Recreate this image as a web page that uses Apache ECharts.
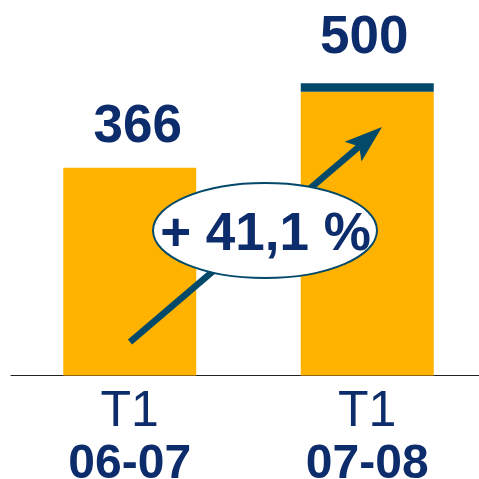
<!DOCTYPE html>
<html><head><meta charset="utf-8">
<script src="https://cdn.jsdelivr.net/npm/echarts@6/dist/echarts.min.js"></script>
<style>html,body{margin:0;padding:0;background:#fff}#c{width:479px;height:479px}</style>
</head><body><div id="c"></div>
<script>
var periods = ['T1', 'T1'];
var years = ['06-07', '07-08'];
var values = [366, 500];
var capValues = [null, 15];
var growthLabel = '+ 41,1 %';

var NAVY = '#0c2c6b', ORANGE = '#ffb300', TEAL = '#034a6a';
var FONT = '"Liberation Sans", Arial, sans-serif';
var categories = periods.map(function (p, i) { return p + '\n' + years[i]; });

var chart = echarts.init(document.getElementById('c'), null, {renderer: 'canvas'});

// arrow geometry (annotation)
var tail = [130, 342], tip = [382, 127];
var dx = tip[0] - tail[0], dy = tip[1] - tail[1], L = Math.sqrt(dx*dx + dy*dy);
var ux = dx / L, uy = dy / L, nx = -uy, ny = ux;
var headLen = 38, headHalf = 13, notch = 30;
var base = [tip[0] - ux*headLen, tip[1] - uy*headLen];
var c1 = [base[0] + nx*headHalf, base[1] + ny*headHalf];
var c2 = [base[0] - nx*headHalf, base[1] - ny*headHalf];
var nt = [tip[0] - ux*notch, tip[1] - uy*notch];

chart.setOption({
  animation: false,
  grid: {left: 11, top: 35, width: 475, bottom: 103.5, containLabel: false, outerBoundsMode: 'none'},
  xAxis: {
    type: 'category', data: categories,
    axisLine: {show: true, lineStyle: {color: '#222', width: 1.2}},
    axisTick: {show: false},
    axisLabel: {
      margin: 11, interval: 0,
      formatter: function (v) { var p = v.split('\n'); return '{a|' + p[0] + '}\n{b|' + p[1] + '}'; },
      rich: {
        a: {fontFamily: FONT, fontSize: 50, color: NAVY, lineHeight: 52},
        b: {fontFamily: FONT, fontSize: 48, fontWeight: 'bold', color: NAVY, lineHeight: 52}
      }
    }
  },
  yAxis: {type: 'value', min: 0, max: 600, show: false, splitLine: {show: false}},
  series: [
    {
      type: 'bar', stack: 's', barWidth: 133,
      itemStyle: {color: ORANGE},
      data: values.map(function (v, i) {
        return {value: v, label: {distance: i === 0 ? 14 : 27, offset: [i === 0 ? 8 : -3, 0]}};
      }),
      label: {show: true, position: 'top', fontFamily: FONT, fontSize: 53, fontWeight: 'bold', color: NAVY}
    },
    {
      type: 'bar', stack: 's', barWidth: 133,
      itemStyle: {color: TEAL},
      data: capValues
    }
  ],
  graphic: [
    {type: 'line', z: 10, shape: {x1: tail[0], y1: tail[1], x2: nt[0] + ux*2, y2: nt[1] + uy*2},
     style: {stroke: TEAL, lineWidth: 6.5, lineCap: 'butt'}},
    {type: 'polygon', z: 10, shape: {points: [tip, c1, nt, c2]}, style: {fill: TEAL}},
    {type: 'ellipse', z: 11, shape: {cx: 265, cy: 230.5, rx: 112, ry: 47.5},
     style: {fill: '#fff', stroke: TEAL, lineWidth: 2}},
    {type: 'text', z: 12, x: 265.5, y: 235,
     style: {text: growthLabel, fontFamily: FONT, fontSize: 53, fontWeight: 'bold', fill: NAVY,
             textAlign: 'center', textVerticalAlign: 'middle'}}
  ]
});
</script></body></html>
